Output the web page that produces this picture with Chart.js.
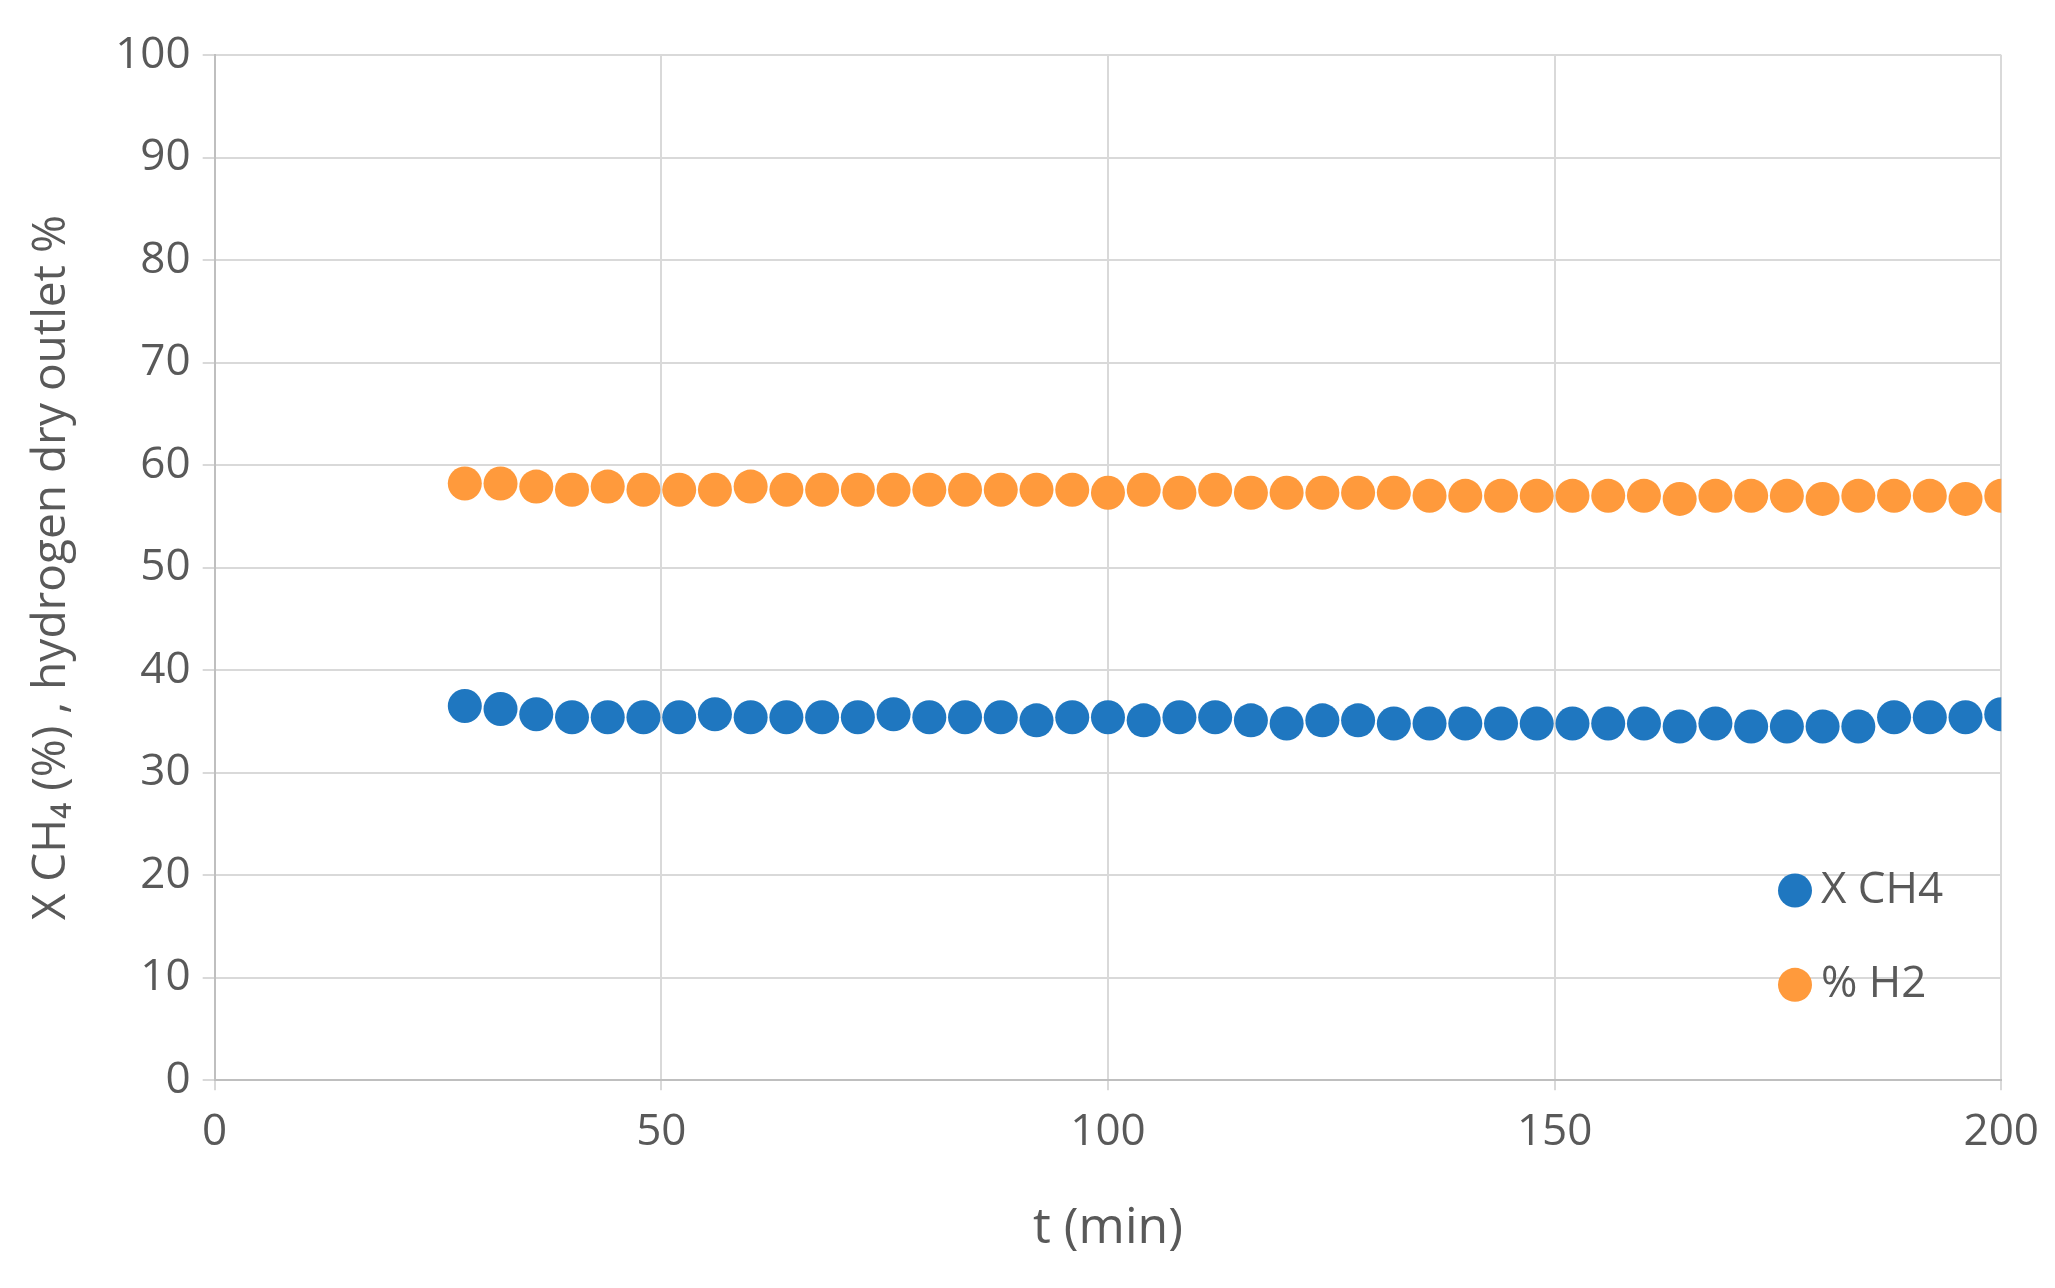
<!DOCTYPE html>
<html><head><meta charset="utf-8">
<script src="https://cdn.jsdelivr.net/npm/chart.js@4"></script>
<style>html,body{margin:0;background:#fff}#w{width:2055px;height:1288px}</style></head>
<body><div id="w"><canvas id="c"></canvas></div>
<script>
const times=[28,32,36,40,44,48,52,56,60,64,68,72,76,80,84,88,92,96,100,104,108,112,116,120,124,128,132,136,140,144,148,152,156,160,164,168,172,176,180,184,188,192,196,200];
const xch4=[36.5,36.2,35.7,35.4,35.4,35.4,35.4,35.7,35.4,35.4,35.4,35.4,35.7,35.4,35.4,35.4,35.1,35.4,35.4,35.1,35.4,35.4,35.1,34.8,35.1,35.1,34.8,34.8,34.8,34.8,34.8,34.8,34.8,34.8,34.5,34.8,34.5,34.5,34.5,34.5,35.4,35.4,35.4,35.7];
const h2=[58.2,58.2,57.9,57.6,57.9,57.6,57.6,57.6,57.9,57.6,57.6,57.6,57.6,57.6,57.6,57.6,57.6,57.6,57.3,57.6,57.3,57.6,57.3,57.3,57.3,57.3,57.3,57.0,57.0,57.0,57.0,57.0,57.0,57.0,56.7,57.0,57.0,57.0,56.7,57.0,57.0,57.0,56.7,57.0];
const seriesNames=['X CH4','% H2'];
const colors=['#1f77c0','#ff9a3c'];
const txt='#595959', F='"Liberation Sans Narrow","Open Sans",sans-serif';
const legendPlugin={id:'lg',afterDraw(ch){const c=ch.ctx,y=ch.scales.y;
 c.save();c.font='44px '+F;c.textBaseline='middle';
 [[18.5,0],[9.3,1]].forEach(([v,i])=>{const py=y.getPixelForValue(v),px=1795;
  c.beginPath();c.arc(px,py,17,0,Math.PI*2);c.fillStyle=colors[i];c.fill();
  c.fillStyle=txt;c.fillText(seriesNames[i],px+26,py);});c.restore();}};
new Chart(document.getElementById('c'),{type:'scatter',
 data:{datasets:[
  {label:seriesNames[0],data:times.map((t,i)=>({x:t,y:xch4[i]})),backgroundColor:colors[0],borderWidth:0,pointRadius:17},
  {label:seriesNames[1],data:times.map((t,i)=>({x:t,y:h2[i]})),backgroundColor:colors[1],borderWidth:0,pointRadius:17}]},
 options:{responsive:true,maintainAspectRatio:false,animation:false,
  layout:{padding:{left:20,right:40,top:55,bottom:25}},
  plugins:{legend:{display:false},tooltip:{enabled:false}},
  scales:{
   x:{type:'linear',min:0,max:200,ticks:{stepSize:50,color:txt,font:{size:44,family:F},padding:16},
      grid:{color:'#d9d9d9',lineWidth:2,tickLength:10},border:{color:'#bfbfbf',width:2},
      title:{display:true,text:'t (min)',color:txt,font:{size:50,family:F},padding:{top:24}}},
   y:{min:0,max:100,ticks:{stepSize:10,color:txt,font:{size:44,family:F},padding:12},
      grid:{color:'#d9d9d9',lineWidth:2,tickLength:12},border:{color:'#bfbfbf',width:2},
      title:{display:true,text:'X CH\u2084 (%) , hydrogen dry outlet %',color:txt,font:{size:46,family:'"Open Sans",sans-serif'},padding:{bottom:24}}}}},
 plugins:[legendPlugin]});
</script></body></html>
